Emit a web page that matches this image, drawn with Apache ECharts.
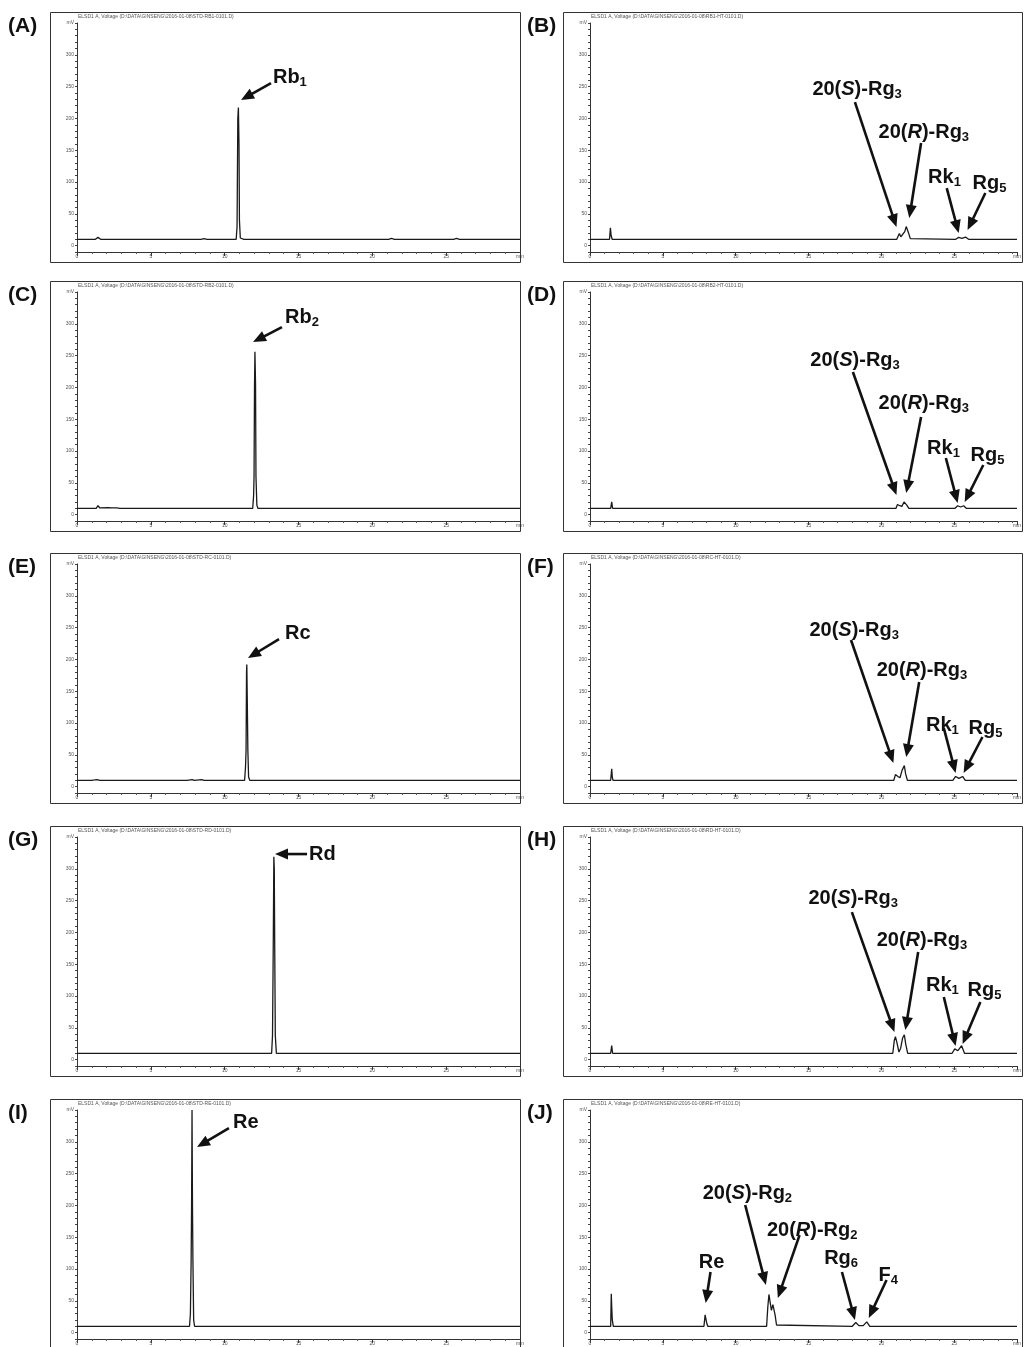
<!DOCTYPE html>
<html>
<head>
<meta charset="utf-8">
<script src="https://cdn.jsdelivr.net/npm/echarts@6/dist/echarts.min.js"></script>
<style>
html, body { margin: 0; padding: 0; background: #fff; }
#main { width: 1024px; height: 1347px; }
</style>
</head>
<body>
<div id="main"></div>
<script>
// [retention time (min), ELSD response (mV)]
var traceA = [[0,10],[1.25,10],[1.42,13],[1.6,10],[8.4,10],[8.6,11],[8.8,10],
    [10.78,10],[10.84,30],[10.89,200],[10.93,217],[10.97,160],[11.0,40],[11.06,12],[11.12,10],
    [11.3,10],[11.4,11.5],[11.5,10],[21.1,10],[21.3,11.5],[21.5,10],[25.5,10],[25.7,11.5],[25.9,10],[30,10]];
var traceB = [[0,10],[1.34,10],[1.4,28],[1.45,16],[1.52,10],
    [21.05,10],[21.15,15],[21.23,19],[21.33,14],[21.45,13],[21.6,22],[21.7,30],[21.77,31],[21.86,20],[21.98,11],[22.1,10],
    [25.1,10],[25.3,13],[25.52,11.5],[25.77,13.5],[25.98,10],[29.3,10]];
var traceC = [[0,10],[1.3,10],[1.42,14],[1.55,10.5],[2.1,11],[2.2,12],[2.35,10.5],[2.7,10.5],[2.8,11.5],[2.9,10],
    [7.7,10],[7.8,11],[7.9,10],
    [11.9,10],[11.96,30],[11.99,60],[12.02,200],[12.05,256],[12.09,207],[12.12,60],[12.18,15],[12.25,10],[30,10]];
var traceD = [[0,10],[1.42,10],[1.49,20],[1.55,10],
    [21.0,10],[21.1,16],[21.16,19],[21.26,14],[21.4,13],[21.55,20],[21.64,23],[21.74,15],[21.88,10],
    [25.05,10],[25.23,14],[25.43,12],[25.64,14],[25.82,10],[29.3,10]];
var traceE = [[0,10],[1.0,10],[1.1,11.5],[1.2,10.5],[1.35,11],[1.42,13],[1.55,10],
    [7.2,10],[7.3,11],[7.45,10],[7.8,11],[7.95,10],[8.45,11],[8.6,10],
    [11.35,10],[11.41,30],[11.45,58],[11.48,180],[11.5,192],[11.53,139],[11.57,58],[11.62,15],[11.7,10],
    [13.3,10],[13.4,12],[13.5,10],[21.1,10],[21.2,11],[21.3,10],[25.5,10],[25.6,11],[25.7,10],[30,10]];
var traceF = [[0,10],[1.42,10],[1.49,28],[1.53,15],[1.58,10],
    [20.85,10],[20.96,19],[21.03,22],[21.13,16],[21.27,14],[21.42,26],[21.57,33],[21.66,20],[21.78,10],
    [24.9,10],[25.09,16],[25.32,13],[25.57,16],[25.75,10],[29.3,10]];
var traceG = [[0,10],[1.0,10],[1.1,11.5],[1.2,10],[6.1,10],[6.2,10.8],[6.3,10],
    [13.18,10],[13.24,38],[13.29,177],[13.33,319],[13.36,300],[13.39,177],[13.43,38],[13.5,10],
    [21.1,10],[21.2,11],[21.3,10],[30,10]];
var traceH = [[0,10],[1.42,10],[1.49,22],[1.55,10],
    [20.78,10],[20.88,30],[20.96,36],[21.05,28],[21.2,12],[21.32,18],[21.45,34],[21.57,39],[21.67,24],[21.8,10],
    [24.85,10],[25.03,17],[25.25,14],[25.5,22],[25.7,10],[29.3,10]];
var traceI = [[0,10],[1.1,10],[1.2,11.5],[1.3,10],
    [7.62,10],[7.68,30],[7.73,114],[7.76,200],[7.79,350],[7.82,200],[7.85,114],[7.9,20],[7.96,10],
    [11.7,10],[11.8,11],[11.9,10],[30,10]];
var traceJ = [[0,10],[1.42,10],[1.46,61],[1.49,41],[1.53,20],[1.6,10],
    [7.82,10],[7.9,28],[7.94,31],[8.0,16],[8.08,10],
    [12.12,10],[12.2,40],[12.28,60],[12.36,48],[12.45,35],[12.55,44],[12.62,43],[12.7,28],[12.8,12],[12.9,10],
    [18.0,10],[18.24,16],[18.45,11],[18.75,11],[18.99,17],[19.2,10],[29.3,10]];

// peak labels: text (rich), label anchor, arrow tail, arrow tip -- all in [min, mV]
var notesA = [{text: '{n|Rb}{s|1}', at: [13.27,265], from: [13.14,255.6], to: [11.11,228.9]}];
var notesC = [{text: '{n|Rb}{s|2}', at: [14.09,310.6], from: [13.88,294.9], to: [11.92,271.3]}];
var notesE = [{text: '{n|Rc}', at: [14.09,241.5], from: [13.68,232.0], to: [11.58,202.2]}];
var notesG = [{text: '{n|Rd}', at: [15.71,323.2], from: [15.58,323.2], to: [13.41,323.2]}];
var notesI = [{text: '{n|Re}', at: [10.56,331.1], from: [10.29,321.6], to: [8.13,291.7]}];
var notesB = [
    {text: '{n|20(}{i|S}{n|)-Rg}{s|3}', at: [15.26,246.2], from: [18.18,225.7], to: [21.03,29.2]},
    {text: '{n|20(}{i|R}{n|)-Rg}{s|3}', at: [19.80,178.6], from: [22.72,161.3], to: [21.91,43.4]},
    {text: '{n|Rk}{s|1}', at: [23.20,107.8], from: [24.48,90.5], to: [25.30,19.8]},
    {text: '{n|Rg}{s|5}', at: [26.25,98.4], from: [27.13,82.7], to: [25.91,24.5]}];
var notesD = [
    {text: '{n|20(}{i|S}{n|)-Rg}{s|3}', at: [15.12,243.0], from: [18.04,224.2], to: [21.03,30.8]},
    {text: '{n|20(}{i|R}{n|)-Rg}{s|3}', at: [19.80,175.4], from: [22.72,153.4], to: [21.70,34.0]},
    {text: '{n|Rk}{s|1}', at: [23.13,104.7], from: [24.42,89.0], to: [25.23,18.2]},
    {text: '{n|Rg}{s|5}', at: [26.11,93.7], from: [26.99,78.0], to: [25.71,19.8]}];
var notesF = [
    {text: '{n|20(}{i|S}{n|)-Rg}{s|3}', at: [15.06,246.2], from: [17.91,230.5], to: [20.82,37.1]},
    {text: '{n|20(}{i|R}{n|)-Rg}{s|3}', at: [19.67,183.3], from: [22.59,164.4], to: [21.70,46.5]},
    {text: '{n|Rk}{s|1}', at: [23.06,96.8], from: [24.28,92.1], to: [25.09,21.4]},
    {text: '{n|Rg}{s|5}', at: [25.98,92.1], from: [26.93,78.0], to: [25.64,21.4]}];
var notesH = [
    {text: '{n|20(}{i|S}{n|)-Rg}{s|3}', at: [14.99,254.0], from: [17.97,232.0], to: [20.89,43.4]},
    {text: '{n|20(}{i|R}{n|)-Rg}{s|3}', at: [19.67,188.0], from: [22.52,169.2], to: [21.64,46.5]},
    {text: '{n|Rk}{s|1}', at: [23.06,117.3], from: [24.28,98.4], to: [25.09,21.4]},
    {text: '{n|Rg}{s|5}', at: [25.91,109.4], from: [26.79,90.5], to: [25.57,24.5]}];
var notesJ = [
    {text: '{n|20(}{i|S}{n|)-Rg}{s|2}', at: [7.73,219.5], from: [10.65,200.6], to: [12.07,74.8]},
    {text: '{n|20(}{i|R}{n|)-Rg}{s|2}', at: [12.14,161.3], from: [14.38,153.4], to: [12.89,54.4]},
    {text: '{n|Re}', at: [7.46,110.9], from: [8.27,95.3], to: [7.94,46.5]},
    {text: '{n|Rg}{s|6}', at: [16.07,117.3], from: [17.29,95.3], to: [18.18,19.8]},
    {text: '{n|F}{s|4}', at: [19.80,90.5], from: [20.35,82.7], to: [19.13,23.0]}];

var panelNames = ['A', 'B', 'C', 'D', 'E', 'F', 'G', 'H', 'I', 'J'];
var traces = [traceA, traceB, traceC, traceD, traceE, traceF, traceG, traceH, traceI, traceJ];
var notes = [notesA, notesB, notesC, notesD, notesE, notesF, notesG, notesH, notesI, notesJ];
var fileNames = ['STD-RB1', 'RB1-HT', 'STD-RB2', 'RB2-HT', 'STD-RC', 'RC-HT', 'STD-RD', 'RD-HT', 'STD-RE', 'RE-HT'];
var yTop = 350;      // labelled 'mV'
var yMin = -10;

var rowTop = [12, 281, 553, 826, 1099];
var cols = [
    {axisX: 77, plotW: 443, boxL: 50, boxR: 520, xMax: 30, letterX: 8},
    {axisX: 590, plotW: 432, boxL: 563, boxR: 1022, xMax: 29.3, letterX: 527}
];
var FONT = '"Liberation Sans", Arial, sans-serif';

var chart = echarts.init(document.getElementById('main'), null, {renderer: 'canvas'});

var grids = [], xAxes = [], yAxes = [], series = [];
traces.forEach(function (trace, i) {
    var r = Math.floor(i / 2);
    var c = cols[i % 2];
    grids.push({left: c.axisX, top: rowTop[r] + 11, width: c.plotW, height: 229});
    xAxes.push({
        type: 'value', gridIndex: i, min: 0, max: c.xMax, interval: 5,
        axisLine: {onZero: false, lineStyle: {color: '#333', width: 1}},
        axisTick: {length: 4, lineStyle: {color: '#333'}},
        minorTick: {show: true, splitNumber: 5, length: 2, lineStyle: {color: '#555'}},
        splitLine: {show: false},
        axisLabel: {
            fontSize: 5, color: '#555', margin: 2, fontFamily: FONT,
            formatter: function (v) {
                if (v > c.xMax - 0.01) return 'min';
                return v % 5 === 0 ? String(v) : '';
            }
        }
    });
    yAxes.push({
        type: 'value', gridIndex: i, min: yMin, max: yTop, interval: 10,
        axisLine: {show: true, lineStyle: {color: '#333', width: 1}},
        axisTick: {show: true, length: 2, lineStyle: {color: '#444'}},
        splitLine: {show: false},
        axisLabel: {
            fontSize: 5, color: '#555', margin: 3, fontFamily: FONT,
            formatter: function (v) {
                if (v === yTop) return 'mV';
                return (v >= 0 && v % 50 === 0) ? String(v) : '';
            }
        }
    });
    series.push({
        type: 'line', xAxisIndex: i, yAxisIndex: i, data: trace,
        symbol: 'none', lineStyle: {color: '#1a1a1a', width: 1.3}
    });
});

chart.setOption({
    animation: false,
    grid: grids,
    xAxis: xAxes,
    yAxis: yAxes,
    series: series
});

var rich = {
    n: {fontSize: 20, fontWeight: 'bold', fontStyle: 'normal', fontFamily: FONT, lineHeight: 24, fill: '#111'},
    i: {fontSize: 20, fontWeight: 'bold', fontStyle: 'italic', fontFamily: FONT, lineHeight: 24, fill: '#111'},
    s: {fontSize: 13, fontWeight: 'bold', fontStyle: 'normal', fontFamily: FONT, lineHeight: 13, verticalAlign: 'bottom', fill: '#111'}
};

function arrow(p0, p1) {
    var dx = p1[0] - p0[0], dy = p1[1] - p0[1];
    var len = Math.sqrt(dx * dx + dy * dy);
    var ux = dx / len, uy = dy / len;
    var hl = 13, hw = 5.5;
    var bx = p1[0] - ux * hl, by = p1[1] - uy * hl;
    return [
        {type: 'line', shape: {x1: p0[0], y1: p0[1], x2: bx + ux, y2: by + uy},
            style: {stroke: '#111', lineWidth: 2.6}, z: 10},
        {type: 'polygon', shape: {points: [[p1[0], p1[1]], [bx - uy * hw, by + ux * hw], [bx + uy * hw, by - ux * hw]]},
            style: {fill: '#111'}, z: 10}
    ];
}

var gfx = [];
panelNames.forEach(function (name, i) {
    var r = Math.floor(i / 2);
    var c = cols[i % 2];
    var top = rowTop[r];
    gfx.push({type: 'rect', shape: {x: c.boxL + 0.5, y: top + 0.5, width: c.boxR - c.boxL, height: 250},
        style: {fill: 'transparent', stroke: '#333', lineWidth: 1}, z: 1, silent: true});
    gfx.push({type: 'text', style: {text: '(' + name + ')', x: c.letterX, y: top + 14,
        font: 'bold 21px ' + FONT, fill: '#111', verticalAlign: 'middle', align: 'left'}});
    gfx.push({type: 'text', style: {text: 'ELSD1 A, Voltage (D:\\DATA\\GINSENG\\2016-01-08\\' + fileNames[i] + '-0101.D)',
        x: c.axisX + 1, y: top + 2, font: '5px ' + FONT, fill: '#555', verticalAlign: 'top', align: 'left'}});
    notes[i].forEach(function (n) {
        var at = chart.convertToPixel({gridIndex: i}, n.at);
        var from = chart.convertToPixel({gridIndex: i}, n.from);
        var to = chart.convertToPixel({gridIndex: i}, n.to);
        gfx.push({type: 'text', z: 11, style: {text: n.text, x: at[0], y: at[1], rich: rich,
            align: 'left', verticalAlign: 'middle'}});
        gfx = gfx.concat(arrow(from, to));
    });
});

chart.setOption({graphic: gfx});
</script>
</body>
</html>
